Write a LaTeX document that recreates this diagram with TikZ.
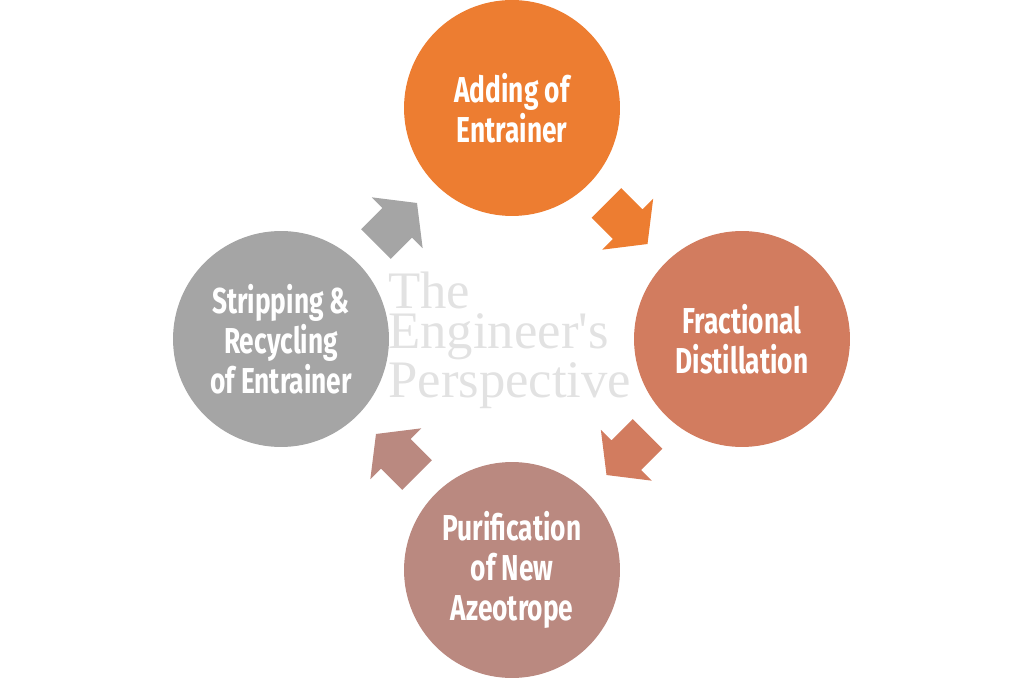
\documentclass[tikz,border=0pt]{standalone}
\usepackage{fontspec}
\usepackage{tikz}
\usetikzlibrary{calc}

\newfontfamily\stagefont[FakeStretch=0.73]{Fira Sans}
\newfontfamily\markfont{Liberation Serif}

\definecolor{addcol}{RGB}{237,125,49}
\definecolor{fraccol}{RGB}{210,124,95}
\definecolor{purcol}{RGB}{186,137,128}
\definecolor{stripcol}{RGB}{165,165,165}
\definecolor{markcol}{RGB}{226,226,226}

\begin{document}
\begin{tikzpicture}[
    x=0.02cm,
    y=0.02cm,
    stage/.style={circle, minimum size=4.32cm, inner sep=0pt, align=center, text=white,
        font=\stagefont\bfseries\fontsize{20.5}{22.8}\selectfont},
    watermark/.style={align=left, inner sep=0pt, text=markcol,
        font=\markfont\fontsize{30}{22.8}\selectfont}
]
\useasboundingbox (0,0) rectangle (1024,680);

\node[watermark, anchor=north west] (wmark) at (388,408) {The\\Engineer's\\Perspective};

\node[stage, fill=addcol] (add) at (512,572) {Adding of\\Entrainer};
\node[stage, fill=fraccol] (frac) at (742,341) {Fractional\\Distillation};
\node[stage, fill=purcol] (pur) at (512,110) {Purification\\of New\\Azeotrope};
\node[stage, fill=stripcol] (strip) at (281,341) {Stripping \&\\Recycling\\of Entrainer};

% block arrows halfway between neighbouring stages
\foreach \src/\dst/\ang in {add/frac/-45, frac/pur/-135, pur/strip/135, strip/add/45}
  \fill[\src col, shift={($(\src)!0.5!(\dst)$)}, rotate=\ang]
    (-29,-21) -- (1,-21) -- (1,-36) -- (29,0) -- (1,36) -- (1,21) -- (-29,21) -- cycle;
\end{tikzpicture}
\end{document}
